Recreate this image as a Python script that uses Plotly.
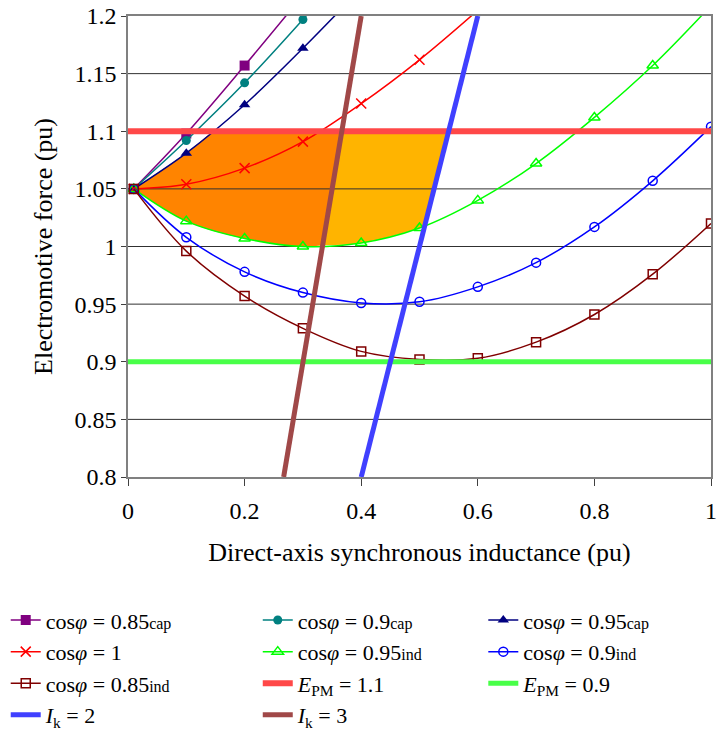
import plotly.graph_objects as go

# ---------------- data ----------------
Ld = [0.01, 0.1, 0.2, 0.3, 0.4, 0.5, 0.6, 0.7, 0.8, 0.9, 1.0]

E_cap085 = [1.05, 1.098, 1.157, 1.218]
E_cap090 = [1.05, 1.092, 1.142, 1.197, 1.255]
E_cap095 = [1.05, 1.081, 1.123, 1.172, 1.224]
E_unity = [1.05, 1.054, 1.068, 1.091, 1.124, 1.162, 1.205]
E_ind095 = [1.05, 1.022, 1.007, 1.000, 1.003, 1.016, 1.040, 1.072, 1.112, 1.157, 1.209]
E_ind090 = [1.05, 1.008, 0.978, 0.960, 0.951, 0.952, 0.965, 0.986, 1.017, 1.057, 1.104]
E_ind085 = [1.05, 0.996, 0.957, 0.929, 0.909, 0.902, 0.903, 0.917, 0.941, 0.976, 1.020]

EPM_x = [0.0, 1.0]
EPM_high = 1.1
EPM_low = 0.9

Ik2_x = [0.4, 0.6]
Ik2_E = [0.8, 1.2]
Ik3_x = [0.267, 0.4]
Ik3_E = [0.8, 1.2]

x_ticks = [0, 0.2, 0.4, 0.6, 0.8, 1]
y_ticks = [0.8, 0.85, 0.9, 0.95, 1, 1.05, 1.1, 1.15, 1.2]

FONT = "Liberation Serif"


# ---------------- helpers (geometry derived from the data) ----------------
def line_fn(xs, ys):
    s = (ys[1] - ys[0]) / (xs[1] - xs[0])
    return lambda x: ys[0] + s * (x - xs[0])


def line_x_at(xs, ys, yv):
    s = (ys[1] - ys[0]) / (xs[1] - xs[0])
    return xs[0] + (yv - ys[0]) / s


def cross_level(xs, ys, level):
    for i in range(len(xs) - 1):
        if (ys[i] - level) * (ys[i + 1] - level) <= 0 and ys[i] != ys[i + 1]:
            t = (level - ys[i]) / (ys[i + 1] - ys[i])
            return i, xs[i] + t * (xs[i + 1] - xs[i])
    return None, None


def cross_line(xs, ys, f):
    for i in range(len(xs) - 1):
        d0 = ys[i] - f(xs[i])
        d1 = ys[i + 1] - f(xs[i + 1])
        if d0 * d1 <= 0 and d0 != d1:
            t = d0 / (d0 - d1)
            x = xs[i] + t * (xs[i + 1] - xs[i])
            return i, x, ys[i] + t * (ys[i + 1] - ys[i])
    return None, None, None


ik3 = line_fn(Ik3_x, Ik3_E)
ik2 = line_fn(Ik2_x, Ik2_E)
gx = Ld[:len(E_ind095)]
i3, x3g, y3g = cross_line(gx, E_ind095, ik3)
i2, x2g, y2g = cross_line(gx, E_ind095, ik2)
x3h = line_x_at(Ik3_x, Ik3_E, EPM_high)
x2h = line_x_at(Ik2_x, Ik2_E, EPM_high)
ic, xc = cross_level(Ld[:len(E_cap095)], E_cap095, EPM_high)

fig = go.Figure()

# orange region (left of Ik=3)
low1_x = gx[:i3 + 1] + [x3g]
low1_y = E_ind095[:i3 + 1] + [y3g]
up1_x = Ld[:ic + 1] + [xc, x3h]
up1_y = E_cap095[:ic + 1] + [EPM_high, EPM_high]
fig.add_trace(go.Scatter(x=low1_x, y=low1_y, mode="lines", line=dict(width=0, shape="spline"),
                         showlegend=False, hoverinfo="skip"))
fig.add_trace(go.Scatter(x=up1_x, y=up1_y, mode="lines", line=dict(width=0),
                         fill="tonexty", fillcolor="#FF8400", showlegend=False, hoverinfo="skip"))

# light orange region (between Ik=3 and Ik=2)
low2_x = [x3g] + gx[i3 + 1:i2 + 1] + [x2g]
low2_y = [y3g] + E_ind095[i3 + 1:i2 + 1] + [y2g]
up2_x = [x3h, x2h]
up2_y = [EPM_high, EPM_high]
fig.add_trace(go.Scatter(x=low2_x, y=low2_y, mode="lines", line=dict(width=0, shape="spline"),
                         showlegend=False, hoverinfo="skip"))
fig.add_trace(go.Scatter(x=up2_x, y=up2_y, mode="lines", line=dict(width=0),
                         fill="tonexty", fillcolor="#FFB400", showlegend=False, hoverinfo="skip"))

# horizontal gridlines above the fills
gxs, gys = [], []
for t in y_ticks[1:-1]:
    gxs += [x_ticks[0], x_ticks[-1], None]
    gys += [t, t, None]
fig.add_trace(go.Scatter(x=gxs, y=gys, mode="lines", line=dict(color="#303030", width=1),
                         showlegend=False, hoverinfo="skip"))

small = "<span style='font-size:16px'>%s</span>"


def curve(E, name, color, symbol, legend, msize=9, mline=None):
    marker = dict(symbol=symbol, size=msize, color=color)
    if mline:
        marker["line"] = dict(color=color, width=mline)
    fig.add_trace(go.Scatter(x=Ld[:len(E)], y=E, name=name, mode="lines+markers",
                             line=dict(color=color, width=1.5, shape="spline"),
                             marker=marker, legend=legend))


curve(E_cap085, "cos<i>φ</i> = 0.85" + small % "cap", "#800080", "square", "legend", 10)
curve(E_cap090, "cos<i>φ</i> = 0.9" + small % "cap", "#008080", "circle", "legend2", 9)
curve(E_cap095, "cos<i>φ</i> = 0.95" + small % "cap", "#000080", "triangle-up", "legend3", 10)
curve(E_unity, "cos<i>φ</i> = 1", "#FF0000", "x-thin-open", "legend", 10, 1.5)
curve(E_ind095, "cos<i>φ</i> = 0.95" + small % "ind", "#00FF00", "triangle-up-open", "legend2", 10, 1.5)
curve(E_ind090, "cos<i>φ</i> = 0.9" + small % "ind", "#0000FF", "circle-open", "legend3", 9, 1.5)
curve(E_ind085, "cos<i>φ</i> = 0.85" + small % "ind", "#800000", "square-open", "legend", 9, 1.5)

fig.add_trace(go.Scatter(x=EPM_x, y=[EPM_high] * len(EPM_x), mode="lines",
                         name="<i>E</i><sub>PM</sub> = 1.1", legend="legend2",
                         line=dict(color="#FF4848", width=6)))
fig.add_trace(go.Scatter(x=EPM_x, y=[EPM_low] * len(EPM_x), mode="lines",
                         name="<i>E</i><sub>PM</sub> = 0.9", legend="legend3",
                         line=dict(color="#48FF48", width=5)))
fig.add_trace(go.Scatter(x=Ik2_x, y=Ik2_E, mode="lines",
                         name="<i>I</i><sub>k</sub> = 2", legend="legend",
                         line=dict(color="#4040FF", width=5)))
fig.add_trace(go.Scatter(x=Ik3_x, y=Ik3_E, mode="lines",
                         name="<i>I</i><sub>k</sub> = 3", legend="legend2",
                         line=dict(color="#A04848", width=5)))


def legend_box(xc):
    return dict(orientation="v", x=xc, xanchor="left", xref="container",
                y=0.178, yanchor="top", yref="container",
                font=dict(family=FONT, size=22), traceorder="normal",
                bgcolor="rgba(0,0,0,0)", tracegroupgap=0)


fig.update_layout(
    width=716, height=729,
    margin=dict(l=128, r=5, t=16, b=252, autoexpand=False),
    paper_bgcolor="white", plot_bgcolor="white",
    font=dict(family=FONT, size=24, color="black"),
    showlegend=True,
    legend=legend_box(0.008),
    legend2=legend_box(0.36),
    legend3=legend_box(0.675),
    annotations=[dict(text="Electromotive force (pu)", xref="paper", yref="paper",
                      x=-0.145, y=0.5, xanchor="center", yanchor="middle",
                      textangle=-90, showarrow=False,
                      font=dict(family=FONT, size=26, color="black"))],
)
fig.update_xaxes(range=[0, 1], tickvals=x_ticks, ticktext=[str(v) for v in x_ticks],
                 showgrid=False, zeroline=False, showline=True, linecolor="#808080",
                 linewidth=1.5, mirror=True, ticks="outside", ticklen=7, tickcolor="#404040",
                 tickfont=dict(size=24, family=FONT), ticklabelstandoff=4,
                 ticklabeloverflow="allow", automargin=False,
                 title=dict(text="Direct-axis synchronous inductance (pu)",
                            font=dict(size=26, family=FONT), standoff=20))
fig.update_yaxes(range=[0.8, 1.2], tickvals=y_ticks, ticktext=["%g" % v for v in y_ticks],
                 showgrid=False, zeroline=False, showline=True, linecolor="#808080",
                 linewidth=1.5, mirror=True, ticks="outside", ticklen=5, tickcolor="#404040",
                 tickfont=dict(size=24, family=FONT), automargin=False)

fig.write_html("out.html")
